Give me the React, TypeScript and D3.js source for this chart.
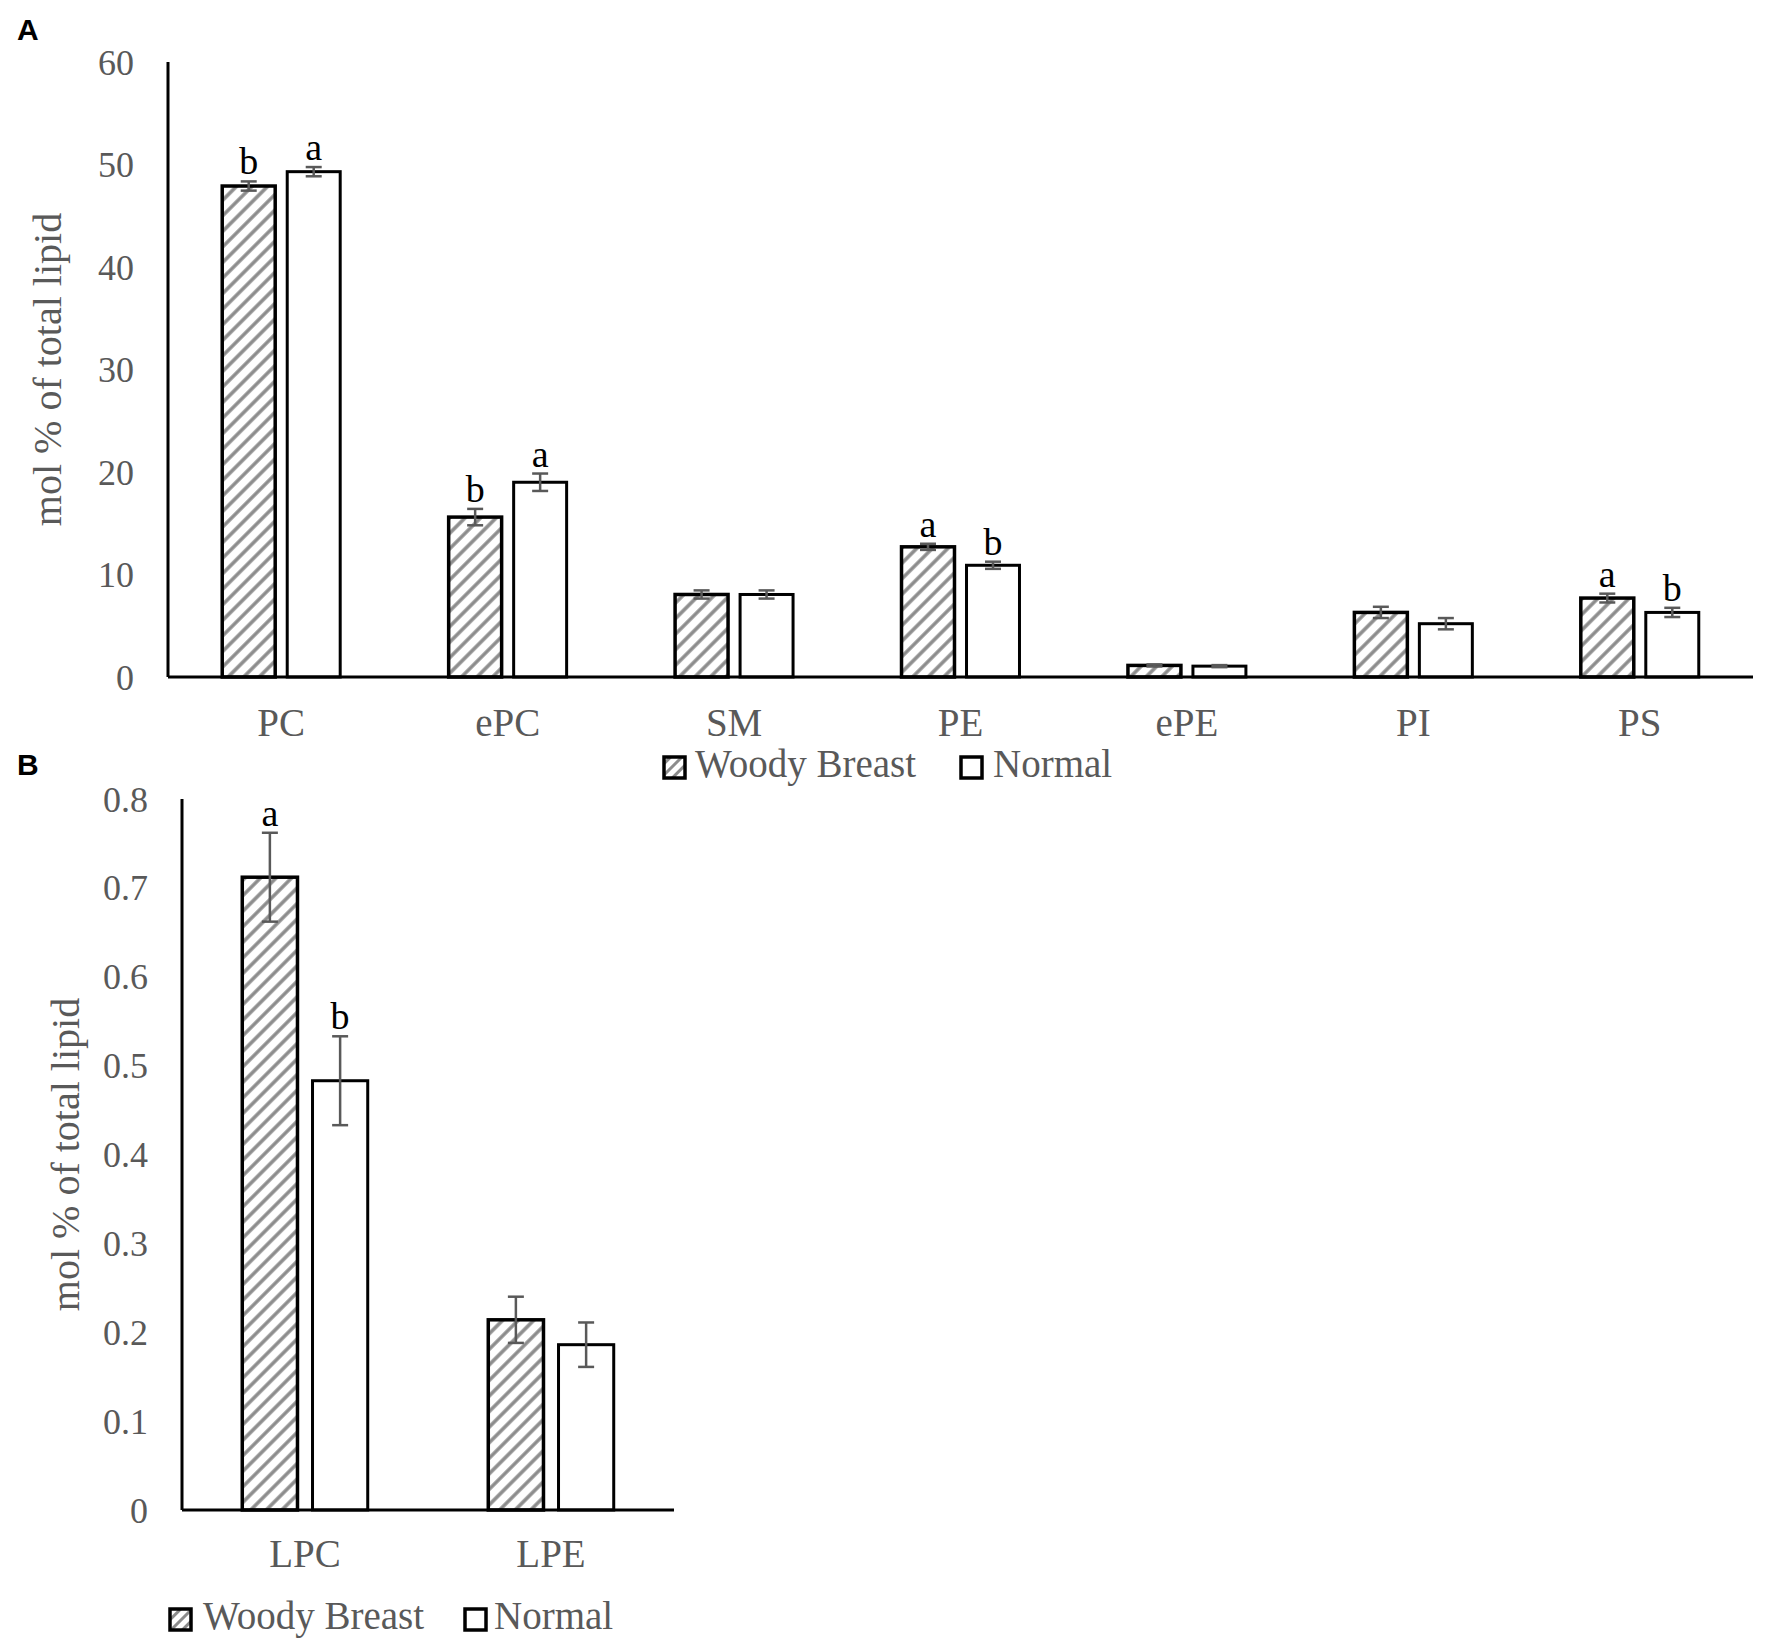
import React from 'react';
import * as d3 from 'd3';

// panel A: phospholipid classes
const catsA = ["PC", "ePC", "SM", "PE", "ePE", "PI", "PS"];
const woodyA = [47.9, 15.6, 8.05, 12.7, 1.13, 6.3, 7.7];
const normalA = [49.3, 19.0, 8.05, 10.9, 1.06, 5.2, 6.3];
const woodyErrA = [0.45, 0.8, 0.4, 0.3, 0.1, 0.55, 0.43];
const normalErrA = [0.45, 0.85, 0.4, 0.35, 0.1, 0.55, 0.45];
const woodyLetA = ["b", "b", "", "a", "", "", "a"];
const normalLetA = ["a", "a", "", "b", "", "", "b"];
const ticksA = [0, 10, 20, 30, 40, 50, 60];

// panel B: lyso species
const catsB = ["LPC", "LPE"];
const woodyB = [0.712, 0.214];
const normalB = [0.483, 0.186];
const woodyErrB = [0.05, 0.026];
const normalErrB = [0.05, 0.025];
const woodyLetB = ["a", ""];
const normalLetB = ["b", ""];
const ticksB = [0, 0.1, 0.2, 0.3, 0.4, 0.5, 0.6, 0.7, 0.8];

const series = ["Woody Breast", "Normal"];

const serif = "'Liberation Serif', 'Times New Roman', serif";
const gray = "#595959";

interface PanelProps {
  tag: string;
  tagY: number;
  cats: string[];
  woody: number[];
  normal: number[];
  woodyErr: number[];
  normalErr: number[];
  woodyLet: string[];
  normalLet: string[];
  ticks: number[];
  yMax: number;
  x0: number;
  x1: number;
  yTop: number;
  yZero: number;
  tickX: number;
  labelX: number;
  catY: number;
  legendY: number;
  legendX: number[];
  padding: number;
  innerPad: number;
  tickSize: number;
}

const Panel: React.FC<PanelProps> = (p) => {
  const x = d3.scaleBand<string>()
    .domain(p.cats)
    .range([p.x0, p.x1])
    .paddingInner(p.padding)
    .paddingOuter(p.padding / 2);
  const xs = d3.scaleBand<string>()
    .domain(series)
    .range([0, x.bandwidth()])
    .paddingInner(p.innerPad);
  const y = d3.scaleLinear().domain([0, p.yMax]).range([p.yZero, p.yTop]);
  const fmt = p.yMax < 1 ? d3.format(".1~f") : d3.format("d");

  const rows = p.cats.flatMap((c, i) => [
    { c, s: series[0], v: p.woody[i], e: p.woodyErr[i], l: p.woodyLet[i] },
    { c, s: series[1], v: p.normal[i], e: p.normalErr[i], l: p.normalLet[i] },
  ]);

  return (
    <g>
      <text x={17} y={p.tagY} fontFamily="'Liberation Sans', Arial, sans-serif"
        fontWeight="bold" fontSize={30} fill="#000">{p.tag}</text>

      {p.ticks.map(t => (
        <text key={t} x={p.tickX} y={y(t)} dy="0.35em" textAnchor="end"
          fontFamily={serif} fontSize={p.tickSize} fill={gray}>{fmt(t)}</text>
      ))}

      <text transform={`translate(${p.labelX},${(p.yTop + p.yZero) / 2}) rotate(-90)`}
        textAnchor="middle" fontFamily={serif} fontSize={40} fill={gray}>
        mol % of total lipid
      </text>

      {rows.map(r => {
        const bx = x(r.c)! + xs(r.s)!;
        const cx = bx + xs.bandwidth() / 2;
        const top = y(r.v);
        const eHi = y(r.v + r.e);
        const eLo = y(r.v - r.e);
        return (
          <g key={r.c + r.s}>
            <rect x={bx} y={top} width={xs.bandwidth()} height={p.yZero - top}
              fill={r.s === series[0] ? "url(#hatch)" : "#fff"}
              stroke="#000" strokeWidth={r.s === series[0] ? 3.5 : 3} />
            <line x1={cx} x2={cx} y1={eHi} y2={eLo} stroke={gray} strokeWidth={2.5} />
            <line x1={cx - 8} x2={cx + 8} y1={eHi} y2={eHi} stroke={gray} strokeWidth={2.5} />
            <line x1={cx - 8} x2={cx + 8} y1={eLo} y2={eLo} stroke={gray} strokeWidth={2.5} />
            {r.l && (
              <text x={cx} y={eHi - 7} textAnchor="middle" fontFamily={serif}
                fontSize={38} fill="#000">{r.l}</text>
            )}
          </g>
        );
      })}

      <line x1={p.x0} x2={p.x0} y1={p.yTop} y2={p.yZero} stroke="#000" strokeWidth={3} />
      <line x1={p.x0} x2={p.x1} y1={p.yZero} y2={p.yZero} stroke="#000" strokeWidth={3} />

      {p.cats.map(c => (
        <text key={c} x={x(c)! + x.bandwidth() / 2} y={p.catY} textAnchor="middle"
          fontFamily={serif} fontSize={39} fill={gray}>{c}</text>
      ))}

      {series.map((s, i) => (
        <g key={s}>
          <rect x={p.legendX[i * 2]} y={p.legendY - 20} width={21} height={21}
            fill={i === 0 ? "url(#hatchSmall)" : "#fff"} stroke="#000" strokeWidth={3.5} />
          <text x={p.legendX[i * 2 + 1]} y={p.legendY} fontFamily={serif}
            fontSize={39} fill={gray}>{s}</text>
        </g>
      ))}
    </g>
  );
};

export default function App() {
  return (
    <svg width={1775} height={1642} viewBox="0 0 1775 1642"
      style={{ position: "absolute", left: 0, top: 0, background: "#fff" }}>
      <defs>
        <pattern id="hatch" patternUnits="userSpaceOnUse" width={11} height={11}
          patternTransform="rotate(45)">
          <rect width={11} height={11} fill="#fff" />
          <line x1={2} x2={2} y1={0} y2={11} stroke="#8c8c8c" strokeWidth={3.5} />
        </pattern>
        <pattern id="hatchSmall" patternUnits="userSpaceOnUse" width={8} height={8}
          patternTransform="rotate(45)">
          <rect width={8} height={8} fill="#fff" />
          <line x1={1.5} x2={1.5} y1={0} y2={8} stroke="#8c8c8c" strokeWidth={3} />
        </pattern>
      </defs>
      <Panel tag="A" tagY={40} cats={catsA} woody={woodyA} normal={normalA}
        woodyErr={woodyErrA} normalErr={normalErrA} woodyLet={woodyLetA} normalLet={normalLetA}
        ticks={ticksA} yMax={60} x0={168} x1={1753} yTop={62} yZero={677}
        tickX={134} labelX={61} catY={736} legendY={777} legendX={[664, 695, 961, 993]}
        padding={0.479} innerPad={0.185} tickSize={36} />
      <Panel tag="B" tagY={775} cats={catsB} woody={woodyB} normal={normalB}
        woodyErr={woodyErrB} normalErr={normalErrB} woodyLet={woodyLetB} normalLet={normalLetB}
        ticks={ticksB} yMax={0.8} x0={182} x1={674} yTop={799} yZero={1510}
        tickX={148} labelX={79} catY={1567} legendY={1629} legendX={[170, 203, 465, 494]}
        padding={0.49} innerPad={0.214} tickSize={36} />
    </svg>
  );
}
